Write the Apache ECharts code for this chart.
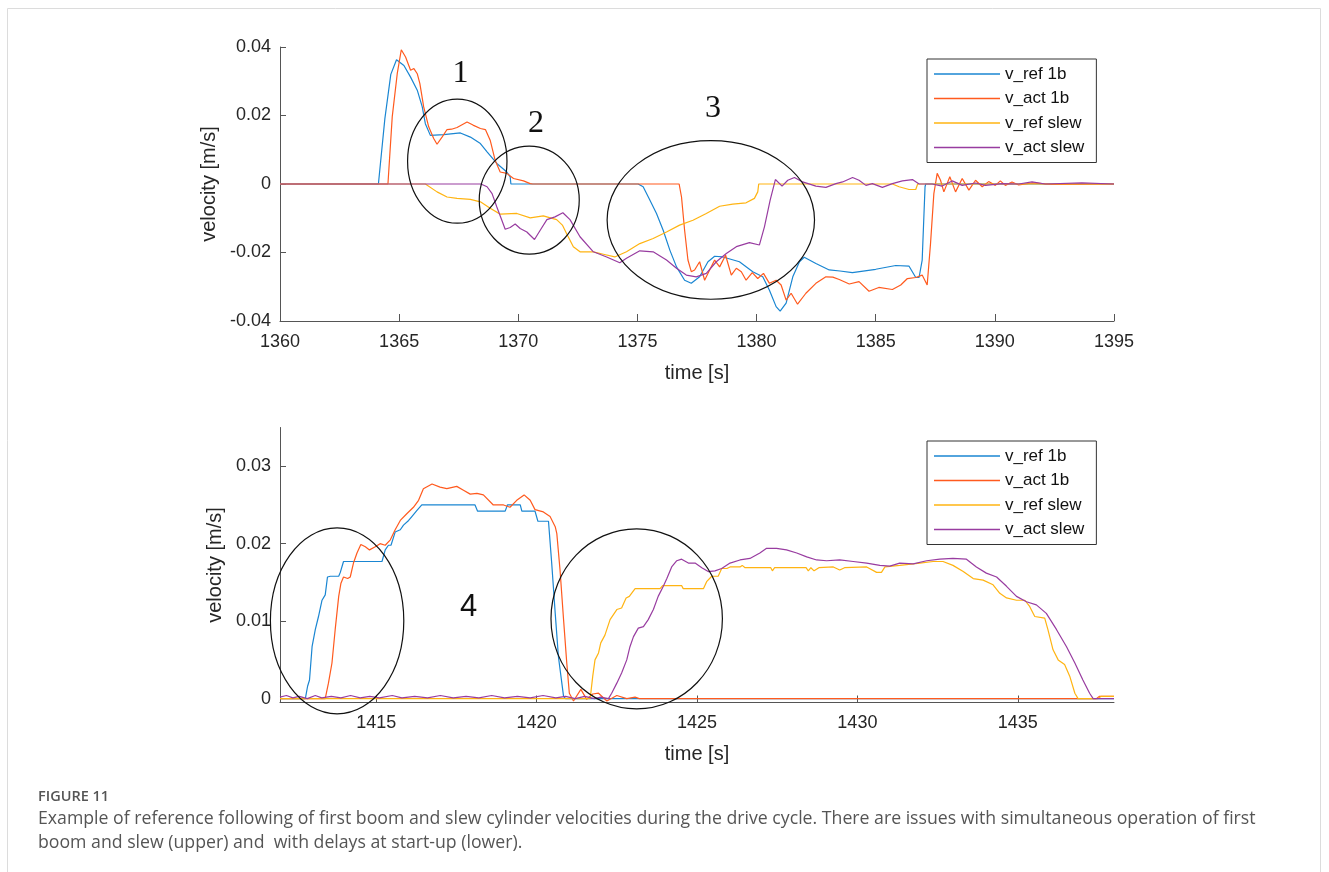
<!DOCTYPE html>
<html>
<head>
<meta charset="utf-8">
<title>Figure 11</title>
<script src="https://cdn.jsdelivr.net/npm/echarts@6/dist/echarts.min.js"></script>
<style>
  html, body { margin: 0; padding: 0; background: #fff; }
  #chart { width: 1329px; height: 872px; }
</style>
</head>
<body>
<div id="chart"></div>
<script>
// series names and colours
const seriesNames = ['v_ref 1b', 'v_act 1b', 'v_ref slew', 'v_act slew']
const seriesColors = ['#1a86d2', '#ff5a1e', '#ffb412', '#983ca0']

// upper plot: time [s], velocity [m/s]
const upRef1b = [[1360,0],[1364.13,0],[1364.4,0.019],[1364.65,0.032],[1364.89,0.0363],[1365.2,0.0346],[1365.48,0.0312],[1365.76,0.0274],[1365.97,0.0225],[1366.1,0.0176],[1366.31,0.0142],[1366.87,0.0144],[1367.57,0.0149],[1367.99,0.0137],[1368.41,0.0118],[1368.69,0.0094],[1369.1,0.006],[1369.52,0.0035],[1369.66,0.0021],[1369.69,0],[1375.03,0],[1375.24,-0.0008],[1375.52,-0.0047],[1375.8,-0.0086],[1376.08,-0.0135],[1376.36,-0.0193],[1376.64,-0.0242],[1376.98,-0.0281],[1377.26,-0.029],[1377.61,-0.0271],[1377.96,-0.0227],[1378.24,-0.0211],[1378.59,-0.0213],[1379.28,-0.0227],[1379.84,-0.0256],[1380.26,-0.0271],[1380.54,-0.031],[1380.82,-0.0358],[1380.99,-0.0371],[1381.24,-0.0348],[1381.52,-0.0271],[1381.8,-0.0227],[1382.0,-0.0214],[1382.49,-0.0232],[1383.05,-0.0251],[1383.5,-0.0254],[1384.02,-0.0259],[1385.0,-0.0249],[1385.84,-0.0238],[1386.4,-0.024],[1386.68,-0.0273],[1386.82,-0.0273],[1386.95,-0.0222],[1387.07,-0.0008],[1387.1,0],[1395,0]]
const upAct1b = [[1360,0],[1364.53,0],[1364.71,0.0196],[1364.92,0.0322],[1365.09,0.0392],[1365.27,0.0371],[1365.48,0.0332],[1365.62,0.0337],[1365.76,0.0322],[1365.87,0.0293],[1366.03,0.0225],[1366.24,0.0167],[1366.45,0.0133],[1366.59,0.0116],[1366.8,0.0137],[1367.01,0.0159],[1367.2,0.016],[1367.43,0.0165],[1367.85,0.0181],[1368.1,0.0172],[1368.41,0.0162],[1368.62,0.0159],[1368.82,0.0128],[1369.03,0.0069],[1369.24,0.0035],[1369.52,0.0031],[1369.8,0.0016],[1370.22,0.0009],[1370.5,0.0001],[1370.6,0],[1376.75,0],[1376.85,-0.0038],[1376.98,-0.0135],[1377.12,-0.0222],[1377.26,-0.0256],[1377.4,-0.0251],[1377.61,-0.0227],[1377.82,-0.0281],[1378.03,-0.0251],[1378.24,-0.0222],[1378.45,-0.0242],[1378.7,-0.0208],[1378.94,-0.0266],[1379.15,-0.0246],[1379.36,-0.0256],[1379.56,-0.0281],[1379.82,-0.0259],[1380.05,-0.0276],[1380.29,-0.0261],[1380.54,-0.029],[1380.82,-0.0281],[1381.03,-0.0295],[1381.24,-0.0339],[1381.45,-0.0319],[1381.72,-0.0351],[1382.07,-0.0319],[1382.49,-0.029],[1382.91,-0.0271],[1383.2,-0.0272],[1383.47,-0.0279],[1383.89,-0.0292],[1384.3,-0.0285],[1384.72,-0.0313],[1385.13,-0.0302],[1385.7,-0.0308],[1386.05,-0.0295],[1386.33,-0.0276],[1386.68,-0.0273],[1386.95,-0.0266],[1387.16,-0.0295],[1387.3,-0.0174],[1387.44,-0.0028],[1387.58,0.0031],[1387.72,0.0011],[1387.86,-0.0023],[1388.11,0.0021],[1388.35,-0.0023],[1388.63,0.0016],[1388.91,-0.0018],[1389.19,0.0011],[1389.47,-0.0008],[1389.74,0.0007],[1390.02,-0.0004],[1390.23,0.0009],[1390.44,-0.0004],[1390.72,0.0006],[1391.0,-0.0003],[1391.56,0.0003],[1392.39,-0.0001],[1395,0]]
const upRefSlew = [[1360,0],[1366.1,0],[1366.18,-0.0004],[1366.59,-0.0023],[1367.01,-0.0038],[1367.43,-0.0042],[1367.99,-0.0045],[1368.41,-0.0052],[1368.82,-0.0071],[1369.24,-0.0088],[1369.94,-0.0086],[1370.5,-0.0099],[1371.05,-0.0093],[1371.61,-0.0104],[1371.85,-0.012],[1372.03,-0.0145],[1372.31,-0.0183],[1372.59,-0.0198],[1373.15,-0.0198],[1373.57,-0.0205],[1374.05,-0.0213],[1374.54,-0.0198],[1375.1,-0.0174],[1375.66,-0.0159],[1376.22,-0.014],[1376.77,-0.012],[1377.33,-0.0106],[1377.89,-0.0086],[1378.45,-0.0065],[1379.0,-0.0059],[1379.56,-0.0055],[1379.91,-0.0042],[1380.05,-0.0023],[1380.09,0],[1385.7,0],[1385.98,-0.0008],[1386.4,-0.0016],[1386.68,-0.0016],[1386.76,0],[1395,0]]
const upActSlew = [[1360,0],[1368.43,0],[1368.69,-0.0008],[1368.9,-0.0028],[1369.1,-0.0067],[1369.31,-0.0106],[1369.45,-0.0132],[1369.66,-0.0127],[1369.87,-0.0117],[1370.08,-0.013],[1370.36,-0.014],[1370.68,-0.0162],[1370.92,-0.0135],[1371.2,-0.0104],[1371.54,-0.0096],[1371.87,-0.0084],[1372.17,-0.0104],[1372.59,-0.0154],[1373.15,-0.0198],[1373.71,-0.0213],[1374.26,-0.023],[1374.54,-0.0217],[1375.1,-0.0195],[1375.66,-0.0198],[1376.22,-0.0222],[1376.64,-0.0246],[1377.05,-0.0266],[1377.47,-0.0271],[1377.89,-0.0261],[1378.31,-0.0227],[1378.73,-0.0203],[1379.15,-0.0183],[1379.7,-0.0171],[1380.12,-0.0178],[1380.33,-0.0125],[1380.57,-0.0047],[1380.79,0.0013],[1381.07,-0.0006],[1381.31,0.0011],[1381.59,0.0019],[1381.93,0.0006],[1382.49,-0.0006],[1382.91,-0.001],[1383.33,0.0001],[1383.61,0.0006],[1384.03,0.0019],[1384.3,0.0011],[1384.59,-0.0004],[1384.86,0.0001],[1385.28,-0.001],[1385.7,0.0001],[1386.12,0.0009],[1386.54,0.0013],[1386.82,0],[1387.37,0],[1387.79,-0.0006],[1388.21,0.0009],[1388.63,-0.0004],[1389.19,0.0003],[1389.61,-0.0004],[1390.3,0.0001],[1391.0,0],[1391.56,0.0006],[1392.12,0],[1393.65,0.0003],[1395,0]]

// lower plot
const loRef1b = [[1412,0],[1412.79,0],[1412.86,0.0016],[1412.92,0.0024],[1413.0,0.0067],[1413.1,0.0089],[1413.2,0.0106],[1413.31,0.0127],[1413.41,0.0134],[1413.48,0.0157],[1413.57,0.0158],[1413.83,0.0158],[1413.88,0.0163],[1413.98,0.0177],[1415.18,0.0177],[1415.28,0.0192],[1415.38,0.0198],[1415.46,0.0198],[1415.59,0.0215],[1415.75,0.0218],[1415.85,0.0224],[1416.01,0.023],[1416.11,0.0235],[1416.27,0.0243],[1416.42,0.025],[1418.08,0.025],[1418.16,0.0242],[1419.02,0.0242],[1419.09,0.025],[1419.49,0.025],[1419.54,0.0242],[1419.95,0.0242],[1420.04,0.0229],[1420.37,0.0229],[1420.47,0.0175],[1420.58,0.011],[1420.68,0.0054],[1420.84,0.0003],[1420.9,0],[1438,0]]
const loAct1b = [[1412,0],[1413.41,0],[1413.51,0.002],[1413.62,0.0046],[1413.72,0.0089],[1413.83,0.0132],[1413.9,0.0149],[1413.98,0.0157],[1414.11,0.0155],[1414.19,0.0157],[1414.29,0.0175],[1414.4,0.0188],[1414.52,0.0199],[1414.66,0.0196],[1414.79,0.0192],[1414.97,0.0196],[1415.12,0.02],[1415.28,0.0198],[1415.44,0.0205],[1415.59,0.0218],[1415.75,0.023],[1415.96,0.0239],[1416.16,0.0247],[1416.32,0.0256],[1416.47,0.0271],[1416.74,0.0277],[1416.99,0.0273],[1417.2,0.0271],[1417.51,0.0274],[1417.72,0.0269],[1417.93,0.0264],[1418.14,0.0265],[1418.34,0.0263],[1418.65,0.025],[1418.97,0.025],[1419.17,0.0247],[1419.38,0.0256],[1419.61,0.0263],[1419.8,0.0256],[1419.95,0.0244],[1420.21,0.0241],[1420.42,0.0235],[1420.58,0.0222],[1420.63,0.0213],[1420.73,0.0166],[1420.84,0.0102],[1420.94,0.0046],[1421.02,0.0007],[1421.15,-0.0003],[1421.38,0.0012],[1421.56,-0.0001],[1421.75,0.0006],[1421.93,0.0007],[1422.19,-0.0003],[1422.5,0.0004],[1422.81,0],[1423.07,0.0002],[1423.2,0],[1437.45,0],[1437.55,0.0003],[1438,0.0003]]
const loRefSlew = [[1412,0],[1421.67,0],[1421.75,0.0029],[1421.82,0.005],[1421.93,0.0059],[1422.0,0.0072],[1422.13,0.0082],[1422.29,0.0102],[1422.5,0.0115],[1422.65,0.0117],[1422.79,0.013],[1422.89,0.0132],[1423.07,0.0142],[1423.85,0.0142],[1423.93,0.0146],[1424.52,0.0146],[1424.57,0.0142],[1425.2,0.0142],[1425.3,0.0151],[1425.46,0.0158],[1425.66,0.0158],[1425.77,0.0168],[1425.93,0.0168],[1426.03,0.017],[1426.34,0.017],[1426.41,0.0172],[1426.5,0.0169],[1427.3,0.0169],[1427.35,0.0165],[1427.42,0.0169],[1428.4,0.0169],[1428.47,0.0165],[1428.55,0.0169],[1428.65,0.0165],[1428.8,0.0169],[1429.25,0.017],[1429.45,0.0166],[1429.6,0.0169],[1430.29,0.017],[1430.6,0.0163],[1430.75,0.0163],[1430.86,0.017],[1431.32,0.0172],[1431.95,0.0175],[1432.36,0.0177],[1432.67,0.0177],[1432.98,0.0172],[1433.3,0.0164],[1433.61,0.0155],[1433.92,0.0153],[1434.23,0.0147],[1434.44,0.0136],[1434.65,0.013],[1434.96,0.0127],[1435.22,0.0127],[1435.37,0.0119],[1435.53,0.0106],[1435.84,0.0104],[1435.94,0.0089],[1436.1,0.0063],[1436.26,0.005],[1436.46,0.0044],[1436.62,0.0029],[1436.78,0.0007],[1436.88,0],[1437.5,0],[1437.6,0.0003],[1438,0.0003]]
const loActSlew = [[1412,0.0002],[1412.2,0.0004],[1412.4,0.0001],[1412.6,0.0003],[1412.85,0],[1413.1,0.0004],[1413.3,0.0001],[1413.6,0.0003],[1413.9,0.0001],[1414.2,0.0004],[1414.5,0.0001],[1414.8,0.0003],[1415.1,0.0001],[1415.5,0.0004],[1415.8,0.0001],[1416.2,0.0003],[1416.6,0.0001],[1417.0,0.0004],[1417.4,0.0001],[1417.8,0.0003],[1418.2,0.0001],[1418.6,0.0004],[1419.0,0.0001],[1419.4,0.0003],[1419.8,0.0001],[1420.2,0.0004],[1420.6,0.0001],[1420.9,0.0003],[1421.2,0],[1421.5,0.0003],[1421.8,0],[1422.0,0.0002],[1422.24,0],[1422.34,0.0007],[1422.5,0.002],[1422.65,0.0033],[1422.81,0.005],[1422.91,0.0067],[1423.02,0.008],[1423.17,0.0091],[1423.33,0.0093],[1423.48,0.0102],[1423.64,0.0115],[1423.79,0.0132],[1423.95,0.0145],[1424.06,0.0155],[1424.21,0.017],[1424.37,0.0178],[1424.52,0.018],[1424.73,0.0175],[1424.94,0.0175],[1425.15,0.0169],[1425.35,0.0164],[1425.56,0.0165],[1425.77,0.0168],[1426.03,0.0175],[1426.34,0.0179],[1426.65,0.0181],[1426.96,0.0188],[1427.17,0.0194],[1427.48,0.0194],[1427.79,0.0192],[1428.11,0.0188],[1428.42,0.0183],[1428.73,0.0179],[1429.04,0.0178],[1429.45,0.0179],[1429.87,0.0177],[1430.29,0.0175],[1430.7,0.0172],[1431.01,0.0171],[1431.32,0.0175],[1431.74,0.0174],[1432.16,0.0178],[1432.57,0.018],[1432.98,0.0181],[1433.4,0.018],[1433.71,0.017],[1434.02,0.0162],[1434.34,0.0157],[1434.65,0.0145],[1434.96,0.0132],[1435.27,0.0125],[1435.58,0.0121],[1435.89,0.011],[1436.21,0.0089],[1436.52,0.0067],[1436.78,0.0046],[1437.03,0.0024],[1437.24,0.0007],[1437.35,0],[1438,0]]

// ticks
const lowerTimeTicks = [1415, 1420, 1425, 1430, 1435]
const lowerVelTicks = [0, 0.01, 0.02, 0.03]

// annotations: [grid, time, velocity, rx px, ry px]
const ellipses = [[0, 1367.44, 0.00665, 49.7, 62], [0, 1370.46, -0.0047, 50, 54], [0, 1378.08, -0.0105, 103.7, 79.3], [1, 1413.78, 0.01004, 66.7, 93], [1, 1423.12, 0.0103, 85.7, 90]]
const labels = [[0, 1367.57, 0.0322, '1', 'serif'], [0, 1370.74, 0.0176, '2', 'serif'], [0, 1378.17, 0.022, '3', 'serif'], [1, 1417.88, 0.0118, '4', 'sans']]

const captionTitle = 'FIGURE 11'
const captionText = 'Example of reference following of first boom and slew cylinder velocities during the drive cycle. There are issues with simultaneous operation of first\nboom and slew (upper) and  with delays at start-up (lower).'

const FONT = 'Liberation Sans, Arial, sans-serif'
const chart = echarts.init(document.getElementById('chart'))

function fmt(v) {
  return String(+v.toFixed(4))
}

function xAxisOf(gridIndex, min, max, extra) {
  return Object.assign({
    type: 'value', gridIndex: gridIndex, min: min, max: max,
    name: 'time [s]', nameLocation: 'middle', nameGap: 42,
    nameTextStyle: { fontFamily: FONT, fontSize: 20, color: '#262626' },
    axisLine: { show: true, onZero: false, lineStyle: { color: '#555', width: 1 } },
    axisTick: { show: true, inside: true, length: 7, lineStyle: { color: '#555' } },
    axisLabel: { fontFamily: FONT, fontSize: 18, color: '#262626', margin: 12, formatter: fmt },
    splitLine: { show: false }
  }, extra)
}

function yAxisOf(gridIndex, min, max, extra) {
  return Object.assign({
    type: 'value', gridIndex: gridIndex, min: min, max: max,
    name: 'velocity [m/s]', nameLocation: 'middle', nameGap: 52,
    nameTextStyle: { fontFamily: FONT, fontSize: 20, color: '#262626' },
    axisLine: { show: true, onZero: false, lineStyle: { color: '#555', width: 1 } },
    axisTick: { show: true, inside: true, length: 6, lineStyle: { color: '#555' } },
    axisLabel: { fontFamily: FONT, fontSize: 18, color: '#262626', margin: 9, formatter: fmt },
    splitLine: { show: false }
  }, extra)
}

function legendAt(top) {
  return {
    orient: 'vertical', left: 927, top: top,
    data: seriesNames,
    icon: 'rect', itemWidth: 66, itemHeight: 1.5, itemGap: 4.5,
    padding: [5, 12, 5, 7],
    borderColor: '#333', borderWidth: 1, backgroundColor: '#fff',
    textStyle: { fontFamily: FONT, fontSize: 17, color: '#111', lineHeight: 20 }
  }
}

const upper = [upRef1b, upAct1b, upRefSlew, upActSlew]
const lower = [loRef1b, loAct1b, loRefSlew, loActSlew]
const series = []
;[upper, lower].forEach(function (group, g) {
  group.forEach(function (data, i) {
    series.push({
      name: seriesNames[i], type: 'line', xAxisIndex: g, yAxisIndex: g,
      data: data, symbol: 'none', showSymbol: false,
      lineStyle: { width: 1.2, color: seriesColors[i] },
      itemStyle: { color: seriesColors[i] },
      emphasis: { disabled: true }
    })
  })
})

chart.setOption({
  animation: false,
  backgroundColor: '#fff',
  grid: [
    { left: 280, top: 47, width: 834, height: 274 },
    { left: 280, top: 427.5, width: 834, height: 275 }
  ],
  xAxis: [
    xAxisOf(0, 1360, 1395, { interval: 5 }),
    xAxisOf(1, 1412, 1438, {
      axisTick: { show: true, inside: true, length: 7, lineStyle: { color: '#555' }, customValues: lowerTimeTicks },
      axisLabel: { fontFamily: FONT, fontSize: 18, color: '#262626', margin: 12, formatter: fmt, customValues: lowerTimeTicks }
    })
  ],
  yAxis: [
    yAxisOf(0, -0.04, 0.04, { interval: 0.02 }),
    yAxisOf(1, -0.0005, 0.035, {
      axisTick: { show: true, inside: true, length: 6, lineStyle: { color: '#555' }, customValues: lowerVelTicks },
      axisLabel: { fontFamily: FONT, fontSize: 18, color: '#262626', margin: 9, formatter: fmt, customValues: lowerVelTicks }
    })
  ],
  legend: [legendAt(59), legendAt(441)],
  series: series
})

// annotations placed from data coordinates
const elements = [
  { type: 'rect', shape: { x: 7.5, y: 8.5, width: 1313, height: 900 }, style: { fill: 'none', stroke: '#dcdcdc', lineWidth: 1 }, silent: true, z: -1 }
]
ellipses.forEach(function (e) {
  const p = chart.convertToPixel({ gridIndex: e[0] }, [e[1], e[2]])
  elements.push({
    type: 'ellipse', shape: { cx: p[0], cy: p[1], rx: e[3], ry: e[4] },
    style: { fill: 'none', stroke: '#111', lineWidth: 1.2 }, silent: true, z: 100
  })
})
labels.forEach(function (l) {
  const p = chart.convertToPixel({ gridIndex: l[0] }, [l[1], l[2]])
  elements.push({
    type: 'text', x: p[0], y: p[1], silent: true, z: 100,
    style: {
      text: l[3], fill: '#111',
      font: l[4] === 'serif' ? '32px "Liberation Serif", "Times New Roman", serif' : '31px ' + FONT,
      textAlign: 'center', textVerticalAlign: 'middle', align: 'center', verticalAlign: 'middle'
    }
  })
})
elements.push({
  type: 'text', x: 38, y: 797, silent: true,
  style: { text: captionTitle, fill: '#555', font: '600 14.5px "Open Sans", "Noto Sans", sans-serif', textVerticalAlign: 'middle', verticalAlign: 'middle' }
})
elements.push({
  type: 'text', x: 38, y: 807, silent: true,
  style: { text: captionText, fill: '#555', font: '17.7px "Open Sans", "Noto Sans", sans-serif', lineHeight: 24 }
})
chart.setOption({ graphic: { elements: elements } })
</script>
</body>
</html>
